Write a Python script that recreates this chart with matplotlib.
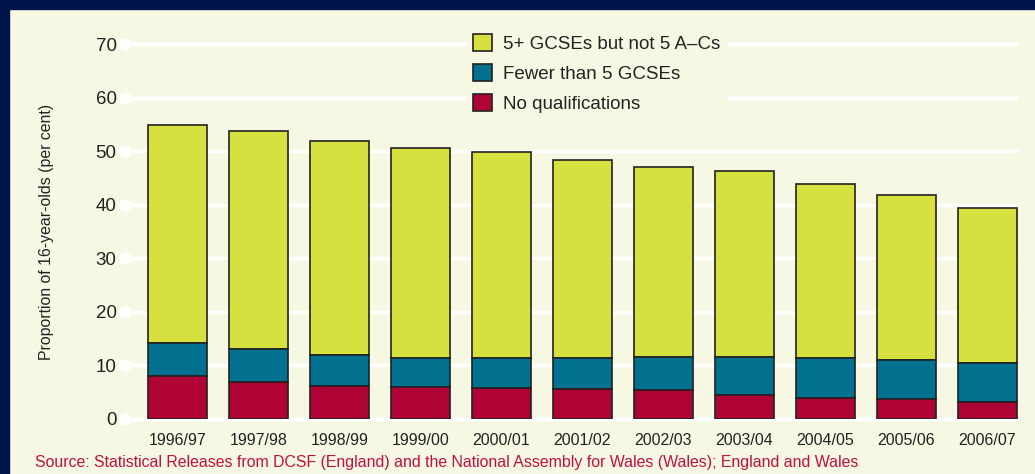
#!/usr/bin/env python3
"""
Stacked bars: low attainment of 16-year-olds, England and Wales
"""

import matplotlib.pyplot as plt
from matplotlib.patches import Rectangle
import numpy as np

years = ['1996/97', '1997/98', '1998/99', '1999/00', '2000/01', '2001/02',
         '2002/03', '2003/04', '2004/05', '2005/06', '2006/07']
no_quals = [8.0, 6.9, 6.2, 5.9, 5.7, 5.6, 5.4, 4.4, 3.9, 3.6, 3.1]
fewer_than_5 = [6.1, 6.1, 5.7, 5.5, 5.7, 5.8, 6.1, 7.1, 7.4, 7.3, 7.3]
five_plus_not_ac = [40.9, 40.7, 40.1, 39.3, 38.5, 37.0, 35.6, 34.9, 32.6, 30.9, 29.0]
labels = ['5+ GCSEs but not 5 A\u2013Cs', 'Fewer than 5 GCSEs', 'No qualifications']

BG = '#f7f8e4'
NAVY = '#00154a'
YELLOW = '#d6e03f'
BLUE = '#02708f'
RED = '#b00335'
TEXT = '#222222'

plt.rcParams['font.family'] = ['Liberation Sans', 'DejaVu Sans']

fig = plt.figure(figsize=(10.35, 4.74), dpi=100, facecolor=BG)
ax = fig.add_axes([125 / 1035, 1 - 418.7 / 474, (1018 - 125) / 1035, (418.7 - 44.3) / 474])
ax.set_facecolor(BG)

# frame: navy top band and left border
fig.patches.append(Rectangle((0, 1 - 9 / 474), 1, 9 / 474, transform=fig.transFigure,
                             color=NAVY, zorder=10))
fig.patches.append(Rectangle((0, 0), 9 / 1035, 1, transform=fig.transFigure,
                             color=NAVY, zorder=10))

x = np.arange(len(years))
xmin, xmax = -0.648, 10.377
ax.set_xlim(xmin, xmax)
ax.set_ylim(0, 70)

# white gridlines with dot at left end
for v in range(0, 71, 10):
    ax.plot([xmin, xmax], [v, v], color='white', lw=2.5, zorder=1, clip_on=False,
            solid_capstyle='butt')
    ax.plot([xmin], [v], 'o', color='white', ms=8, zorder=1, clip_on=False)

w = 0.728
red = np.array(no_quals)
blue = np.array(fewer_than_5)
yel = np.array(five_plus_not_ac)
kw = dict(width=w, edgecolor='#222222', linewidth=1.2, zorder=3)
b3 = ax.bar(x, yel, bottom=red + blue, color=YELLOW, label=labels[0], **kw)
b2 = ax.bar(x, blue, bottom=red, color=BLUE, label=labels[1], **kw)
b1 = ax.bar(x, red, color=RED, label=labels[2], **kw)

for s in ax.spines.values():
    s.set_visible(False)
ax.tick_params(length=0)
ax.set_yticks(range(0, 71, 10))
ax.set_yticklabels([str(v) for v in range(0, 71, 10)], fontsize=13.5, color=TEXT)
ax.tick_params(axis='y', pad=6)
ax.set_xticks(x)
ax.set_xticklabels(years, fontsize=11.5, color=TEXT)
ax.tick_params(axis='x', pad=10)

ax.set_ylabel('Proportion of 16-year-olds (per cent)', fontsize=11.4, color=TEXT)
ax.yaxis.set_label_coords(-0.079, 0.5)

leg = ax.legend(handles=[b3, b2, b1], loc='upper left', bbox_to_anchor=(0.373, 1.068),
                fontsize=13.5, frameon=True, facecolor=BG, edgecolor=BG, framealpha=1,
                handlelength=1.0, handleheight=1.0, handletextpad=0.6, labelspacing=0.6,
                borderpad=0.3, fancybox=False)
leg.set_zorder(5)
for t in leg.get_texts():
    t.set_color(TEXT)

fig.text(35 / 1035, 1 - 462 / 474, 'Source: Statistical Releases from DCSF (England) and the '
         'National Assembly for Wales (Wales); England and Wales',
         fontsize=11.4, color='#c0103f', va='center', ha='left')

plt.savefig('out.png', dpi=100, facecolor=BG)
plt.close()
print('Saved: out.png')
